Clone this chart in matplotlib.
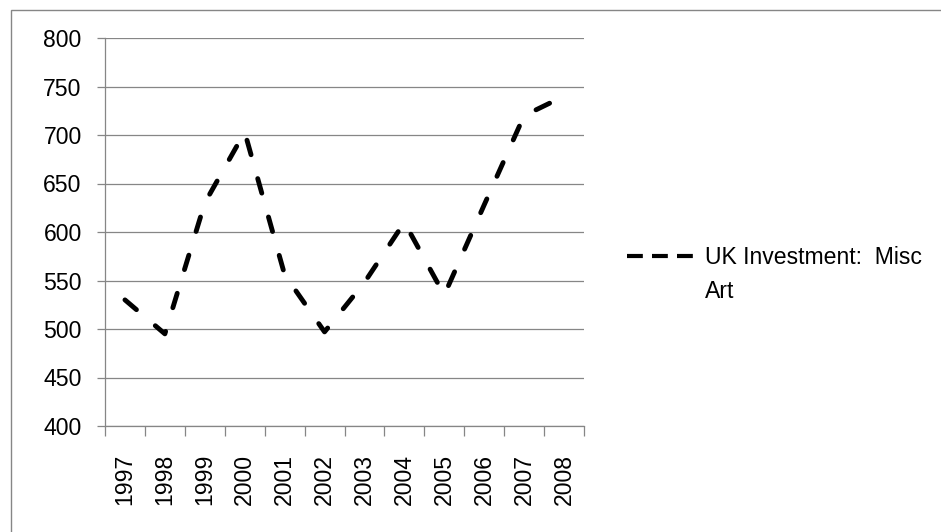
import matplotlib
matplotlib.use("Agg")
import matplotlib.pyplot as plt
from matplotlib.lines import Line2D
from matplotlib.patches import Rectangle

# data
years = ["1997", "1998", "1999", "2000", "2001", "2002",
         "2003", "2004", "2005", "2006", "2007", "2008"]
investment = [530, 495, 630, 703, 556, 497, 548, 610, 535, 628, 720, 740]
series_label = ["UK Investment:  Misc", "Art"]   # wrapped in two lines
y_ticks = [400, 450, 500, 550, 600, 650, 700, 750, 800]

gray = "#868686"
plt.rcParams["font.family"] = ["Liberation Sans", "DejaVu Sans"]
plt.rcParams["font.size"] = 16.6

fig = plt.figure(figsize=(9.41, 5.32), dpi=100)
ax = fig.add_axes([105 / 941, 1 - 426 / 532, 479 / 941, 388 / 532])

x = list(range(len(years)))
ax.plot(x, investment, color="black", linewidth=3.5,
        dashes=(3.1, 5.1), dash_capstyle="round", solid_capstyle="round")

ax.set_ylim(400, 800)
ax.set_yticks(y_ticks)
ax.set_xlim(-0.5, len(years) - 0.5)

# category axis: ticks between categories, labels at centres
ax.set_xticks([i - 0.5 for i in range(len(years) + 1)])
ax.set_xticklabels([])
ax.set_xticks(x, minor=True)
ax.set_xticklabels(years, minor=True, rotation=90, va="top", ha="center")
ax.tick_params(axis="x", which="minor", length=0, pad=20)
ax.tick_params(axis="x", which="major", direction="out", length=7.2,
               width=0.9, color=gray)
ax.tick_params(axis="y", direction="out", length=5.8, width=0.9,
               color=gray, pad=11)

ax.grid(axis="y", color=gray, linewidth=0.9)
ax.set_axisbelow(True)
for side in ["top", "right"]:
    ax.spines[side].set_visible(False)
for side in ["left", "bottom"]:
    ax.spines[side].set_color(gray)
    ax.spines[side].set_linewidth(0.9)

# legend: handle beside the first line, second line of the label below it
handle = Line2D([], [], color="black", linewidth=3.0,
                dashes=(3.8, 2.2), dash_capstyle="butt")
leg = fig.legend([handle], [series_label[0]], loc="center left",
                 bbox_to_anchor=(627 / 941, 1 - 258 / 532), frameon=False,
                 handlelength=3.0, handletextpad=0.4, borderpad=0,
                 borderaxespad=0)
fig.canvas.draw()
tx0 = leg.get_texts()[0].get_window_extent().x0
fig.text(tx0 / fig.bbox.width, 1 - 298 / 532, series_label[1],
         ha="left", va="baseline")

# chart area border (only top and left edges show in the reference)
fig.add_artist(Rectangle((11 / 941, -0.5), 2, 0.5 + (532 - 10) / 532,
                         transform=fig.transFigure, fill=False,
                         edgecolor=gray, linewidth=1.0))

fig.savefig("out.png", dpi=100)
